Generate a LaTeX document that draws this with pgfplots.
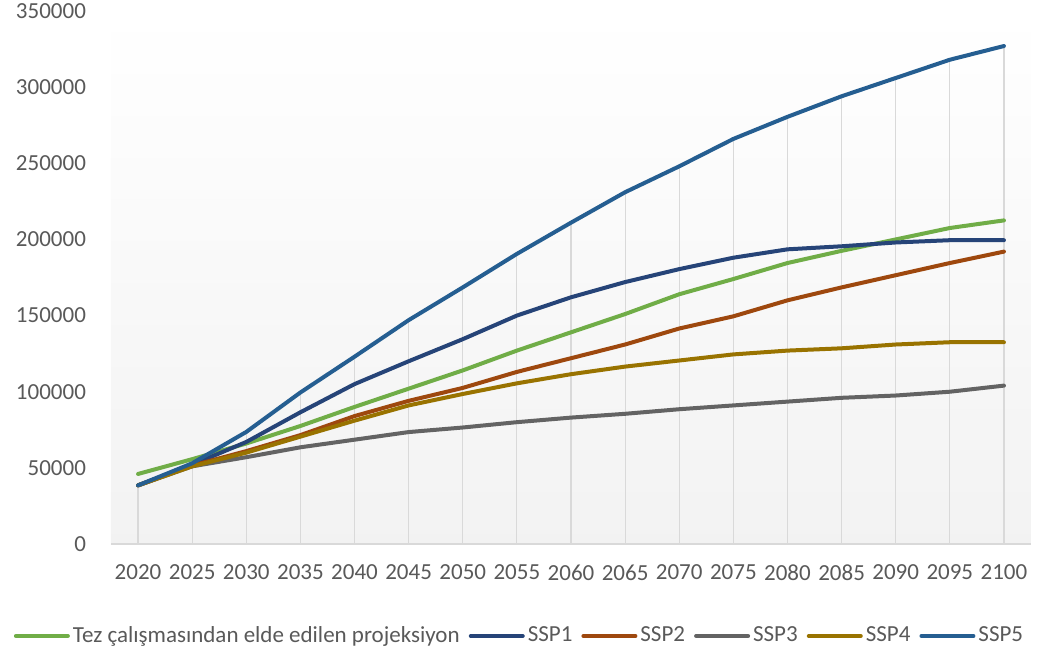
\documentclass[border=0pt]{standalone}
\usepackage{pgfplots}
\pgfplotsset{compat=1.18}
\usepackage{pgfplotstable}
\usepackage{fontspec}
\setmainfont{Carlito}

\definecolor{tez}{HTML}{70AD47}
\definecolor{sspone}{HTML}{264478}
\definecolor{ssptwo}{HTML}{9E480E}
\definecolor{sspthree}{HTML}{636363}
\definecolor{sspfour}{HTML}{997300}
\definecolor{sspfive}{HTML}{255E91}
\definecolor{labelgray}{HTML}{595959}
\definecolor{linegray}{HTML}{D9D9D9}

% Population projections, 2020-2100
\pgfplotstableread{
year tez    ssp1   ssp2   ssp3   ssp4   ssp5
2020 46000  38500  38500  38500  38500  38500
2025 55700  52000  51500  51000  51000  53000
2030 66000  67000  61000  57000  60000  73600
2035 77500  86500  71500  63500  70500  99500
2040 90000  105000 84000  68500  81000  123000
2045 102000 120000 94000  73500  91000  147000
2050 114000 134500 102500 76500  98500  168500
2055 127000 150000 113000 80000  105500 190500
2060 139000 162000 122000 83000  111500 211000
2065 151000 172000 131000 85500  116500 231000
2070 164000 180500 141500 88500  120500 248000
2075 174000 188000 149500 91000  124500 266000
2080 184500 193500 160000 93500  127000 280500
2085 192500 195500 168500 96000  128500 294000
2090 200000 198000 176500 97500  131000 306000
2095 207500 199500 184500 100000 132500 318000
2100 212500 199500 192000 104000 132500 327000
}\projdata

\begin{document}
\begin{tikzpicture}
\useasboundingbox (-55.5pt,-57.5pt) rectangle (475pt,272pt);
\begin{axis}[
  at={(0,0)}, anchor=south west,
  scale only axis, width=460pt, height=266.5pt,
  xmin=2017.5, xmax=2102.5, ymin=0, ymax=350000,
  xtick={2020,2025,...,2100},
  ytick={0,50000,...,350000},
  scaled y ticks=false,
  /pgf/number format/1000 sep={},
  /pgf/number format/fixed,
  /pgf/number format/assume math mode=true,
  axis x line*=bottom, axis y line*=left,
  x axis line style={draw=linegray, line width=0.6pt, -},
  y axis line style={draw=none},
  major tick length=0pt,
  tick label style={font=\fontsize{11.5}{13}\selectfont, text=labelgray},
  yticklabel style={xshift=-9pt},
  xticklabel style={yshift=-7pt},
  axis background/.style={top color=white, bottom color=black!5},
  clip=false,
  legend columns=6,
  legend style={draw=none, fill=none,
    at={(axis description cs:0.4446,-0.1726)}, anchor=center,
    font=\fontsize{11.5}{13}\selectfont, text=labelgray,
    inner sep=0pt,
    nodes={inner sep=1.5pt},
    /tikz/every even column/.append style={column sep=3pt}},
  legend image code/.code={\draw[#1] (0pt,0pt) -- (26pt,0pt);},
  every axis plot/.append style={line width=2pt, line join=round, line cap=round},
]
% drop lines from the highest series down to the axis
\addplot[ycomb, draw=linegray, line width=0.6pt, line cap=butt, forget plot] table[x=year, y=ssp5] {\projdata};

\addplot[tez]       table[x=year, y=tez]  {\projdata};
\addlegendentry{Tez çalışmasından elde edilen projeksiyon}
\addplot[sspone]    table[x=year, y=ssp1] {\projdata};
\addlegendentry{SSP1}
\addplot[ssptwo]    table[x=year, y=ssp2] {\projdata};
\addlegendentry{SSP2}
\addplot[sspthree]  table[x=year, y=ssp3] {\projdata};
\addlegendentry{SSP3}
\addplot[sspfour]   table[x=year, y=ssp4] {\projdata};
\addlegendentry{SSP4}
\addplot[sspfive]   table[x=year, y=ssp5] {\projdata};
\addlegendentry{SSP5}
\end{axis}
\end{tikzpicture}
\end{document}
